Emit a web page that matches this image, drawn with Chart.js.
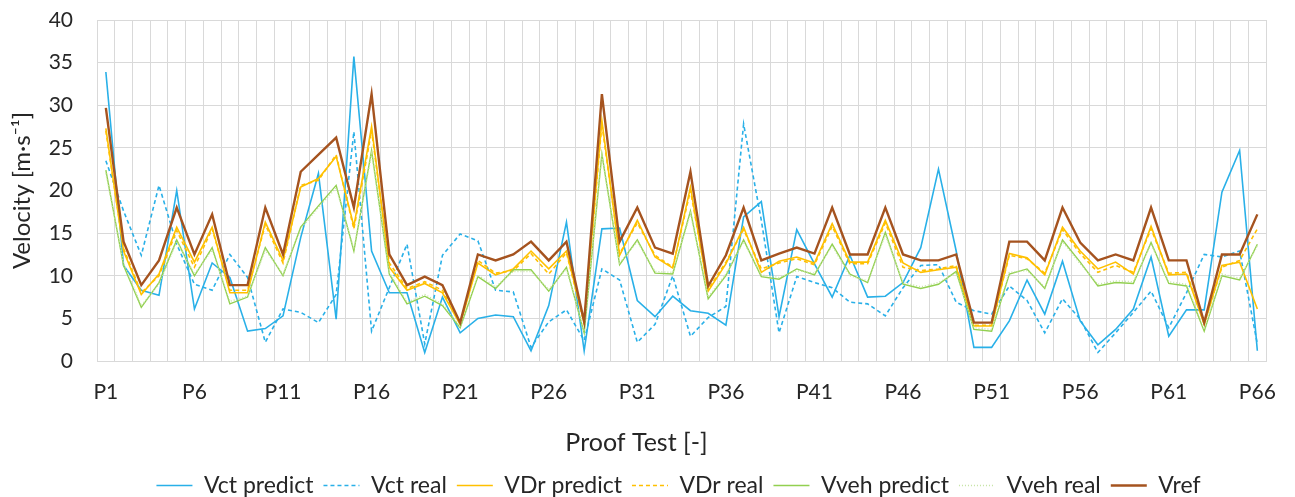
<!DOCTYPE html>
<html>
<head>
<meta charset="utf-8">
<script src="https://cdn.jsdelivr.net/npm/chart.js@4.4.1/dist/chart.umd.min.js"></script>
<style>
  html, body { margin: 0; padding: 0; background: #fff; }
  #wrap { width: 1295px; height: 497px; }
</style>
</head>
<body>
<div id="wrap"><canvas id="graph" width="1295" height="497"></canvas></div>
<script>
// proof tests P1..P66
const tests = [];
for (let i = 1; i <= 66; i++) tests.push('P' + i);

// velocities [m/s]
const vctPredict = [33.9, 11.2, 8.3, 7.7, 20.0, 6.1, 11.5, 9.8, 3.5, 3.8,
  5.3, 14.5, 22.0, 4.9, 35.7, 12.9, 8.0, 8.0, 1.0, 7.5,
  3.3, 5.0, 5.4, 5.2, 1.2, 6.5, 16.3, 1.2, 15.5, 15.6,
  7.1, 5.2, 7.6, 5.9, 5.6, 4.2, 16.9, 18.7, 5.2, 15.4,
  11.4, 7.5, 12.4, 7.5, 7.6, 9.2, 13.3, 22.5, 12.9, 1.6,
  1.6, 4.7, 9.5, 5.5, 11.7, 4.7, 1.9, 3.7, 6.1, 12.2,
  2.9, 6.0, 6.0, 19.8, 24.7, 1.2];
const vctReal = [23.5, 17.6, 12.4, 20.6, 13.7, 9.0, 8.3, 12.5, 9.8, 2.2,
  6.1, 5.7, 4.5, 7.8, 26.9, 3.5, 8.6, 13.7, 2.0, 12.4,
  14.9, 14.1, 8.3, 8.1, 1.6, 4.6, 6.0, 2.4, 10.8, 9.5,
  2.2, 4.3, 10.0, 2.9, 5.1, 6.4, 27.8, 16.5, 3.3, 9.9,
  9.2, 8.6, 6.9, 6.7, 5.3, 8.6, 11.2, 11.3, 6.9, 5.9,
  5.5, 8.8, 7.1, 3.3, 7.3, 4.9, 1.0, 3.3, 5.7, 8.2,
  3.9, 8.0, 12.5, 12.2, 12.9, 2.0];
const vdrPredict = [27.3, 12.9, 7.8, 10.2, 15.7, 11.6, 15.7, 8.0, 8.0, 16.3,
  11.8, 20.4, 21.4, 24.0, 15.8, 27.5, 11.0, 8.3, 9.1, 8.0,
  4.3, 11.5, 10.1, 10.8, 12.9, 10.8, 12.9, 4.5, 28.2, 12.4,
  16.5, 12.2, 10.9, 20.4, 8.2, 11.4, 15.7, 10.4, 11.7, 12.2,
  11.5, 16.1, 11.6, 11.6, 16.5, 11.5, 10.4, 10.7, 11.0, 4.1,
  4.1, 12.6, 12.1, 10.1, 15.7, 12.9, 10.8, 11.6, 10.2, 15.8,
  10.1, 10.2, 4.3, 11.2, 11.6, 6.1];
const vdrReal = [27.0, 13.2, 8.0, 10.0, 15.3, 11.0, 15.5, 8.3, 8.3, 16.0,
  11.5, 20.6, 21.2, 24.2, 15.5, 27.0, 11.5, 8.5, 9.3, 8.3,
  4.4, 11.8, 10.3, 10.6, 12.6, 10.2, 12.7, 4.4, 27.8, 12.6,
  16.2, 12.4, 11.0, 20.0, 8.4, 11.6, 15.4, 10.8, 11.5, 12.0,
  11.3, 15.8, 11.4, 11.4, 16.2, 11.0, 10.6, 10.8, 11.2, 4.2,
  4.2, 12.4, 12.0, 10.3, 15.4, 12.6, 10.4, 11.2, 10.4, 15.5,
  10.3, 10.4, 4.4, 11.0, 11.8, 15.5];
const vvehPredict = [22.4, 11.2, 6.3, 9.2, 14.2, 10.0, 13.3, 6.7, 7.5, 13.3,
  10.0, 15.7, 18.2, 20.6, 12.9, 24.7, 10.2, 6.7, 7.6, 6.5,
  3.9, 9.9, 8.5, 10.7, 10.7, 8.2, 11.0, 3.3, 24.3, 11.3,
  14.2, 10.3, 10.2, 17.6, 7.3, 10.0, 14.2, 9.9, 9.6, 10.8,
  10.1, 13.7, 10.2, 9.2, 15.1, 9.0, 8.5, 9.0, 10.5, 3.7,
  3.5, 10.2, 10.8, 8.5, 14.2, 11.6, 8.8, 9.2, 9.1, 13.9,
  9.1, 8.8, 3.5, 10.0, 9.5, 13.7];
const vvehReal = [22.0, 11.5, 6.5, 9.0, 14.0, 10.2, 13.0, 7.0, 7.6, 13.0,
  10.2, 15.5, 18.0, 20.3, 13.1, 24.3, 10.4, 6.9, 7.8, 6.7,
  4.0, 10.1, 8.7, 10.5, 10.5, 8.4, 10.8, 3.5, 24.0, 11.5,
  14.0, 10.5, 10.4, 17.3, 7.5, 10.2, 14.0, 10.1, 9.8, 10.6,
  10.3, 13.5, 10.0, 9.4, 14.8, 9.2, 8.7, 9.2, 10.3, 3.9,
  3.7, 10.4, 10.6, 8.7, 14.0, 11.4, 9.0, 9.4, 9.3, 13.7,
  9.3, 9.0, 3.7, 10.2, 9.7, 13.5];
const vref = [29.7, 14.0, 8.9, 11.8, 18.0, 12.5, 17.2, 8.9, 8.9, 18.0,
  12.5, 22.2, 24.2, 26.2, 18.0, 31.3, 12.5, 8.9, 9.9, 8.9,
  4.5, 12.5, 11.8, 12.5, 14.0, 11.8, 14.0, 4.6, 31.3, 14.0,
  18.0, 13.3, 12.6, 22.2, 8.8, 12.4, 18.0, 11.8, 12.6, 13.3,
  12.6, 18.0, 12.5, 12.5, 18.0, 12.5, 11.8, 11.8, 12.5, 4.5,
  4.5, 14.0, 14.0, 11.8, 18.0, 13.9, 11.8, 12.5, 11.8, 18.0,
  11.8, 11.8, 4.5, 12.5, 12.5, 17.2];

const yTicks = [0, 5, 10, 15, 20, 25, 30, 35, 40];

const FONT = 'Lato, "Open Sans", sans-serif';
const TEXT = '#262626';
const GRID = '#d9d9d9';

function line(label, data, color, width, dash, order) {
  return {
    label: label,
    data: data,
    borderColor: color,
    backgroundColor: color,
    borderWidth: width,
    borderDash: dash,
    pointRadius: 0,
    pointHoverRadius: 0,
    tension: 0,
    fill: false,
    order: order
  };
}

// legend keeps the dash pattern of each series
function legendLabels(chart) {
  const items = Chart.defaults.plugins.legend.labels.generateLabels(chart);
  items.forEach(function (it) {
    const ds = chart.data.datasets[it.datasetIndex];
    it.lineDash = ds.borderDash;
    it.lineWidth = ds.borderWidth;
    it.strokeStyle = ds.borderColor;
  });
  return items;
}

// nudge the legend row a bit to the right
const legendShift = {
  id: 'legendShift',
  afterLayout: function (chart) {
    if (chart.legend) { chart.legend.left += 42; chart.legend.right += 42; }
  }
};

const ctx = document.getElementById('graph').getContext('2d');
new Chart(ctx, {
  type: 'line',
  data: {
    labels: tests,
    datasets: [
      line('Vct predict', vctPredict, '#29b0e8', 1.6, [], 7),
      line('Vct real', vctReal, '#29b0e8', 1.6, [4, 3], 6),
      line('VDr predict', vdrPredict, '#ffc000', 1.6, [], 5),
      line('VDr real', vdrReal, '#ffc000', 1.6, [4, 3], 4),
      line('Vveh predict', vvehPredict, '#92d050', 1.4, [], 3),
      line('Vveh real', vvehReal, '#c6e3a4', 1.4, [1, 2], 2),
      line('Vref', vref, '#a5531f', 2.4, [], 1)
    ]
  },
  plugins: [legendShift],
  options: {
    responsive: false,
    animation: false,
    layout: { padding: { left: 0, right: 22, top: 20, bottom: -10 } },
    plugins: {
      legend: {
        position: 'bottom',
        labels: {
          usePointStyle: true,
          pointStyle: 'line',
          pointStyleWidth: 36,
          boxHeight: 23,
          padding: 10,
          color: TEXT,
          font: { family: FONT, size: 23 },
          generateLabels: legendLabels,
          sort: (a, b) => a.datasetIndex - b.datasetIndex
        }
      },
      title: {
        display: true,
        position: 'bottom',
        weight: 500,
        text: 'Proof Test [-]',
        color: TEXT,
        font: { family: FONT, size: 25, weight: 'normal' },
        padding: { top: 17, bottom: 6 }
      },
      tooltip: { enabled: false }
    },
    scales: {
      x: {
        offset: true,
        grid: { offset: true, color: GRID, lineWidth: 1, drawTicks: false },
        border: { color: GRID },
        ticks: {
          autoSkip: false,
          maxRotation: 0,
          padding: 19,
          color: TEXT,
          font: { family: FONT, size: 21 },
          callback: function (v, i) { return i % 5 === 0 ? tests[i] : ''; }
        },
        afterFit: function (s) { s.height = 50; }
      },
      y: {
        min: 0,
        max: 40,
        grid: { color: GRID, lineWidth: 1, drawTicks: false },
        border: { display: false },
        afterBuildTicks: function (s) { s.ticks = yTicks.map(v => ({ value: v })); },
        ticks: {
          padding: 24,
          color: TEXT,
          font: { family: FONT, size: 21 }
        },
        title: {
          display: true,
          text: 'Velocity [m·s⁻¹]',
          color: TEXT,
          font: { family: FONT, size: 24 },
          padding: { top: 8, bottom: 0 }
        },
        afterFit: function (s) { s.width = 97; s.paddingTop = 12; s.paddingBottom = 12; }
      }
    }
  }
});
</script>
</body>
</html>
